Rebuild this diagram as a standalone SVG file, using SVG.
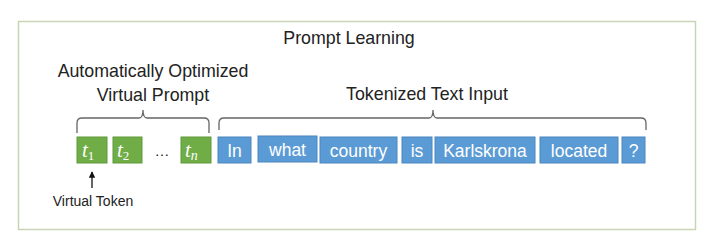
<svg xmlns="http://www.w3.org/2000/svg" width="716" height="252" viewBox="0 0 716 252">
  <style>
    .label { font-family: "Liberation Sans", Arial, sans-serif; fill: #222; }
    .title { font-size: 17.8px; }
    .tok { font-family: "Liberation Sans", Arial, sans-serif; font-size: 17.5px; fill: #fff; text-anchor: middle; }
    .vt { font-family: "Liberation Serif", "Times New Roman", serif; font-style: italic; fill: #fff; }
    .green { fill: #70ad47; stroke: #5e9a3a; stroke-width: 1; }
    .blue { fill: #5b9bd5; stroke: #4a86be; stroke-width: 1; }
    .brace { fill: none; stroke: #666; stroke-width: 1.3; }
  </style>
  <defs>
    <marker id="arrow" viewBox="0 0 10 10" refX="9" refY="5" markerWidth="5" markerHeight="5" orient="auto">
      <path d="M0,0 L10,5 L0,10 z" fill="#111"/>
    </marker>
  </defs>
  <rect width="716" height="252" fill="#fff"/>
  <!-- outer frame -->
  <rect x="18.5" y="21.5" width="677" height="208" fill="#fff" stroke="#c6d6b4" stroke-width="1.5"/>
  <text class="label title" x="349" y="44" text-anchor="middle">Prompt Learning</text>

  <text class="label title" x="153" y="77" text-anchor="middle">Automatically Optimized</text>
  <text class="label title" x="153" y="101" text-anchor="middle">Virtual Prompt</text>
  <text class="label title" x="427" y="100" text-anchor="middle">Tokenized Text Input</text>

  <!-- braces -->
  <g id="connectors">
    <path class="brace" d="M77,133 L77,123 Q77,118 82,118 L139,118 Q143,118 143,110 Q143,118 147,118 L204,118 Q209,118 209,123 L209,133"/>
    <path class="brace" d="M219,130 L219,123 Q219,118 224,118 L429,118 Q433,118 433,110 Q433,118 437,118 L641,118 Q646,118 646,123 L646,130"/>
    <line x1="92" y1="188" x2="92" y2="172" stroke="#111" stroke-width="1.3" marker-end="url(#arrow)"/>
  </g>
  <text class="label" x="93" y="206" font-size="14" text-anchor="middle">Virtual Token</text>

  <!-- virtual tokens -->
  <g id="t1">
    <rect class="green" x="77" y="137" width="30" height="26"/>
    <text class="vt" x="82" y="157" font-size="21">t<tspan font-size="13" dy="3" font-style="normal">1</tspan></text>
  </g>
  <g id="t2">
    <rect class="green" x="113" y="137" width="29" height="26"/>
    <text class="vt" x="117" y="157" font-size="21">t<tspan font-size="13" dy="3" font-style="normal">2</tspan></text>
  </g>
  <text class="label" x="162" y="156" font-size="15" text-anchor="middle">…</text>
  <g id="tn">
    <rect class="green" x="181" y="137" width="30" height="26"/>
    <text class="vt" x="185" y="157" font-size="21">t<tspan font-size="14" dy="3">n</tspan></text>
  </g>

  <!-- text tokens -->
  <g id="tok-in">
    <rect class="blue" x="218" y="137" width="33" height="26"/>
    <text class="tok" x="234.5" y="156.5">In</text>
  </g>
  <g id="tok-what">
    <rect class="blue" x="258" y="136" width="59" height="26"/>
    <text class="tok" x="287.5" y="155.5">what</text>
  </g>
  <g id="tok-country">
    <rect class="blue" x="320" y="137" width="77" height="26"/>
    <text class="tok" x="358.5" y="156.5">country</text>
  </g>
  <g id="tok-is">
    <rect class="blue" x="402" y="137" width="30" height="26"/>
    <text class="tok" x="417" y="156.5">is</text>
  </g>
  <g id="tok-karlskrona">
    <rect class="blue" x="435" y="137" width="100" height="26"/>
    <text class="tok" x="485" y="156.5">Karlskrona</text>
  </g>
  <g id="tok-located">
    <rect class="blue" x="540" y="137" width="78" height="26"/>
    <text class="tok" x="579" y="156.5">located</text>
  </g>
  <g id="tok-q">
    <rect class="blue" x="622" y="137" width="23" height="26"/>
    <text class="tok" x="633.5" y="156.5">?</text>
  </g>
</svg>
